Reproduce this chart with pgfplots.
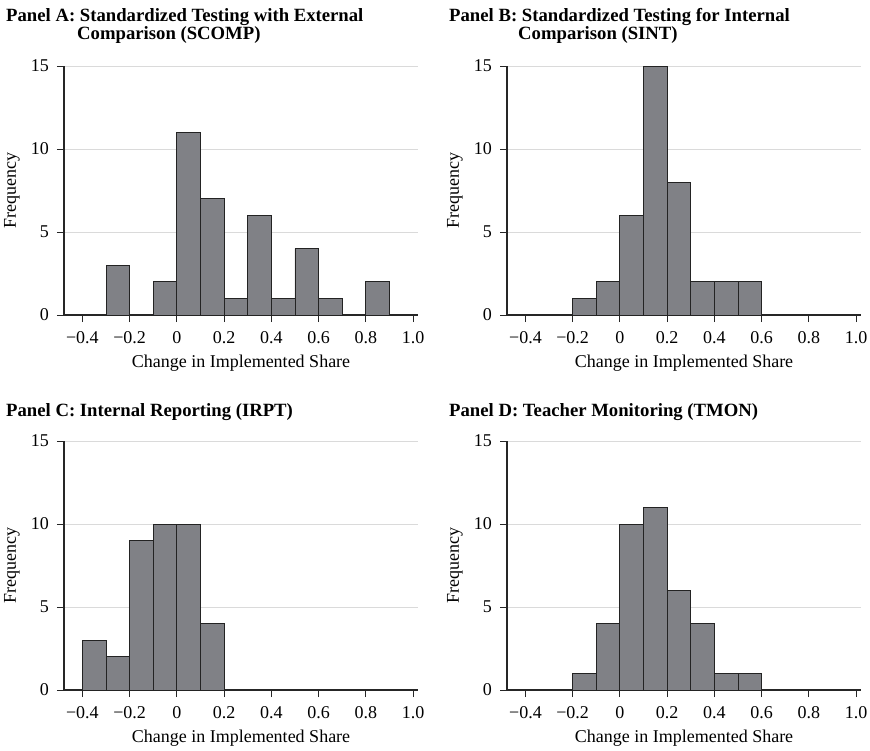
\documentclass[border=0pt]{standalone}
\usepackage{fontspec}
\setmainfont{Liberation Serif}
\usepackage{pgfplots}
\pgfplotsset{compat=1.18}
\definecolor{barfill}{RGB}{128,129,134}
\definecolor{baredge}{RGB}{35,35,35}
\definecolor{gridc}{RGB}{218,218,218}
\pgfplotsset{
  hist/.style={
    scale only axis, width=354pt, height=249pt,
    anchor=south west,
    xmin=-0.478, xmax=1.021, ymin=0, ymax=15,
    axis x line=bottom, axis y line=left,
    axis line style={-, line width=1.1pt, black!85},
    xtick={-0.4,-0.2,0,0.2,0.4,0.6,0.8,1.0},
    xticklabels={−0.4,−0.2,0,0.2,0.4,0.6,0.8,1.0},
    ytick={0,5,10,15},
    yticklabels={0,5,10,15},
    tick align=outside, major tick length=7pt,
    tick style={line width=1pt, black!85},
    ymajorgrids, grid style={gridc, line width=0.9pt},
    ticklabel style={font=\fontsize{18}{20}\selectfont, inner sep=0pt},
    xticklabel style={anchor=base, yshift=-21.5pt},
    yticklabel style={anchor=east, xshift=-8pt},
    every axis x label/.style={at={(axis description cs:0.5,0)}, yshift=-52.5pt, anchor=base, inner sep=0pt, font=\fontsize{18}{20}\selectfont},
    every axis y label/.style={at={(axis description cs:0,0.5)}, xshift=-52pt, rotate=90, anchor=center, inner sep=0pt, font=\fontsize{18}{20}\selectfont},
    xlabel={Change in Implemented Share},
    ylabel={Frequency},
    ybar, bar width=0.1, bar shift=0pt,
  },
  histbar/.style={fill=barfill, draw=baredge, line width=0.9pt},
}
\begin{document}
\begin{tikzpicture}
\path[use as bounding box] (0,0) rectangle (870pt,-750pt);
\tikzset{ttl/.style={anchor=base west, inner sep=0pt, font=\bfseries\fontsize{18.7}{22}\selectfont}}
\node[ttl] at (6pt,-21pt) {Panel A: Standardized Testing with External};
\node[ttl] at (77pt,-39pt) {Comparison (SCOMP)};
\node[ttl] at (449pt,-21pt) {Panel B: Standardized Testing for Internal};
\node[ttl] at (518pt,-39pt) {Comparison (SINT)};
\node[ttl] at (6pt,-416pt) {Panel C: Internal Reporting (IRPT)};
\node[ttl] at (449pt,-416pt) {Panel D: Teacher Monitoring (TMON)};

\begin{axis}[hist, at={(64pt,-315pt)}]
\addplot[histbar] coordinates {(-0.25,3) (-0.05,2) (0.05,11) (0.15,7) (0.25,1) (0.35,6) (0.45,1) (0.55,4) (0.65,1) (0.85,2)};
\end{axis}

\begin{axis}[hist, at={(507pt,-315pt)}]
\addplot[histbar] coordinates {(-0.15,1) (-0.05,2) (0.05,6) (0.15,15) (0.25,8) (0.35,2) (0.45,2) (0.55,2)};
\end{axis}

\begin{axis}[hist, at={(64pt,-690pt)}]
\addplot[histbar] coordinates {(-0.35,3) (-0.25,2) (-0.15,9) (-0.05,10) (0.05,10) (0.15,4)};
\end{axis}

\begin{axis}[hist, at={(507pt,-690pt)}]
\addplot[histbar] coordinates {(-0.15,1) (-0.05,4) (0.05,10) (0.15,11) (0.25,6) (0.35,4) (0.45,1) (0.55,1)};
\end{axis}
\end{tikzpicture}
\end{document}
